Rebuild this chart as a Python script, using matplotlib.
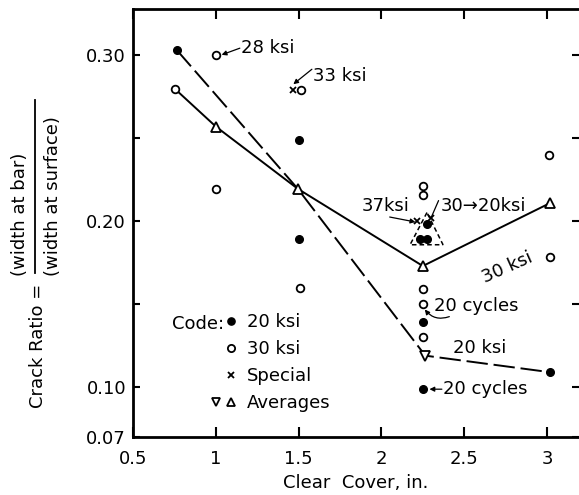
import matplotlib
matplotlib.use("Agg")
import matplotlib.pyplot as plt
from matplotlib.lines import Line2D
from matplotlib.legend_handler import HandlerTuple
from matplotlib.patches import Polygon

plt.rcParams['font.family'] = ['DejaVu Sans']
FS = 13

# ---- data ----
x20 = [0.765, 1.5, 1.5, 2.275, 2.23, 2.275, 2.25, 2.25, 3.02]
y20 = [0.303, 0.249, 0.189, 0.1985, 0.189, 0.189, 0.139, 0.099, 0.109]

x30 = [0.755, 1.0, 1.0, 1.515, 1.51, 2.25, 2.25, 2.25, 2.25, 2.25, 3.01, 3.015]
y30 = [0.2795, 0.300, 0.2195, 0.279, 0.160, 0.221, 0.2155, 0.159, 0.150, 0.130, 0.240, 0.1785]

xsp = [1.466, 2.215, 2.30]
ysp = [0.279, 0.200, 0.202]

avg30_x = [0.755, 1.0, 1.495, 2.25, 3.02]
avg30_y = [0.2795, 0.257, 0.2195, 0.173, 0.211]
avg20_x = [0.765, 1.495, 2.265, 3.02]
avg20_y = [0.303, 0.2195, 0.119, 0.109]

# dashed triangle enclosing the 2.25 cluster
tri_x = [2.275, 2.173, 2.372]
tri_y = [0.2052, 0.1858, 0.1858]

xticks = [0.5, 1, 1.5, 2, 2.5, 3]
xticklabels = ["0.5", "1", "1.5", "2", "2.5", "3"]
yticks = [0.07, 0.10, 0.20, 0.30]
yticklabels = ["0.07", "0.10", "0.20", "0.30"]
yminor = [0.15, 0.25]

W, H = 579, 495
fig = plt.figure(figsize=(W / 100, H / 100), dpi=100)
ax = fig.add_axes([133 / W, 1 - 437 / H, (W - 133) / W, (437 - 9) / H])
ax.set_xlim(0.5, 3.193)
ax.set_ylim(0.07, 0.3278)

lw = 1.4
dash = (0, (11, 3))
ax.plot(avg30_x, avg30_y, color='black', lw=lw, zorder=2)
ax.plot(avg20_x, avg20_y, color='black', lw=lw, linestyle=dash, zorder=2)

mk = dict(linestyle='none', color='black', zorder=4)
h20, = ax.plot(x20, y20, marker='o', ms=5.5, mfc='black', mec='black', **mk)
h30, = ax.plot(x30, y30, marker='o', ms=5.5, mfc='white', mec='black', mew=1.3, **mk)
hsp, = ax.plot(xsp, ysp, marker='x', ms=4.5, mew=1.3, **mk)
hup, = ax.plot(avg30_x[1:], avg30_y[1:], marker='^', ms=6.5, mfc='white', mec='black', mew=1.3, **mk)
hdn, = ax.plot(avg20_x[2:3], avg20_y[2:3], marker='v', ms=6.5, mfc='white', mec='black', mew=1.3, **mk)

ax.add_patch(Polygon(list(zip(tri_x, tri_y)), closed=True, fill=False,
                     ec='black', lw=1.1, ls=(0, (3, 2)), zorder=3))

# ---- spines / ticks ----
for s in ['left', 'bottom', 'top']:
    ax.spines[s].set_linewidth(2)
ax.spines['right'].set_visible(False)
ax.set_xticks(xticks)
ax.set_xticklabels(xticklabels, fontsize=FS)
ax.set_yticks(yticks)
ax.set_yticklabels(yticklabels, fontsize=FS)
ax.set_yticks(yminor, minor=True)
ax.tick_params(axis='x', which='major', direction='in', length=7, width=1.5,
               top=True, pad=9)
ax.tick_params(axis='y', which='both', direction='in', length=5, width=1.5,
               right=True, pad=5)

ax.set_xlabel("Clear  Cover, in.", fontsize=FS, labelpad=5)

# ---- y label pieces ----
def px(x, y):
    return x / W, 1 - y / H

fig.text(*px(38, 346), "Crack Ratio =", rotation=90, fontsize=FS,
         ha='center', va='center')
fig.text(*px(20, 276), "(width at bar)", rotation=90, fontsize=FS,
         ha='center', va='bottom')
fig.text(*px(53, 276), "(width at surface)", rotation=90, fontsize=FS,
         ha='center', va='bottom')
fx0, fy0 = px(35, 100)
fx1, fy1 = px(35, 273)
fig.add_artist(Line2D([fx0, fx1], [fy0, fy1], color='black', lw=1.3,
                      transform=fig.transFigure))

# ---- annotations ----
arr = dict(arrowstyle='-|>', color='black', lw=0.9, mutation_scale=7,
           shrinkA=0, shrinkB=0)
line = dict(arrowstyle='-', color='black', lw=0.9, shrinkA=0, shrinkB=0)

ax.text(1.15, 0.3042, "28 ksi", fontsize=FS, ha='left', va='center')
ax.annotate('', xy=(1.035, 0.3002), xytext=(1.145, 0.3042), arrowprops=arr)

ax.text(1.585, 0.2875, "33 ksi", fontsize=FS, ha='left', va='center')
ax.annotate('', xy=(1.468, 0.2825), xytext=(1.58, 0.2915), arrowprops=arr)

ax.text(1.883, 0.2094, "37ksi", fontsize=FS, ha='left', va='center')
ax.annotate('', xy=(2.205, 0.1995), xytext=(2.05, 0.2025), arrowprops=arr)

ax.text(2.355, 0.2094, "30\u219220ksi", fontsize=FS, ha='left', va='center')
ax.annotate('', xy=(2.30, 0.2021), xytext=(2.345, 0.2124), arrowprops=line)

ax.text(2.758, 0.1719, "30 ksi", fontsize=FS, ha='center', va='center',
        rotation=24, rotation_mode='anchor')

ax.text(2.592, 0.1235, "20 ksi", fontsize=FS, ha='center', va='center')

ax.text(2.315, 0.149, "20 cycles", fontsize=FS, ha='left', va='center')
ax.annotate('', xy=(2.262, 0.1468), xytext=(2.41, 0.1425),
            arrowprops=dict(arr, connectionstyle='arc3,rad=-0.35'))

ax.text(2.37, 0.0988, "20 cycles", fontsize=FS, ha='left', va='center')
ax.annotate('', xy=(2.29, 0.0988), xytext=(2.365, 0.0988), arrowprops=arr)

# ---- legend ----
blank = Line2D([], [], linestyle='none', marker='None')
k20 = Line2D([], [], linestyle='none', marker='o', ms=5.2, mfc='black', mec='black')
k30 = Line2D([], [], linestyle='none', marker='o', ms=5.2, mfc='white', mec='black', mew=1.3)
ksp = Line2D([], [], linestyle='none', marker='x', ms=4.5, mec='black', mew=1.3)
kdn = Line2D([], [], linestyle='none', marker='v', ms=6, mfc='white', mec='black', mew=1.3)
kup = Line2D([], [], linestyle='none', marker='^', ms=6, mfc='white', mec='black', mew=1.3)
leg = ax.legend([(blank, k20), (blank, k30), (blank, ksp), (kdn, kup)],
                ["20 ksi", "30 ksi", "Special", "Averages"],
                handler_map={tuple: HandlerTuple(ndivide=None, pad=0)},
                loc='upper left', bbox_to_anchor=((209 - 133) / (W - 133), (437 - 313) / 428),
                frameon=False, fontsize=FS, handlelength=1.6, handletextpad=0.5,
                labelspacing=0.5, borderpad=0, borderaxespad=0)
ax.text(0.735, 0.138, "Code:", fontsize=FS, ha='left', va='center')

fig.savefig("out.png", dpi=100)
